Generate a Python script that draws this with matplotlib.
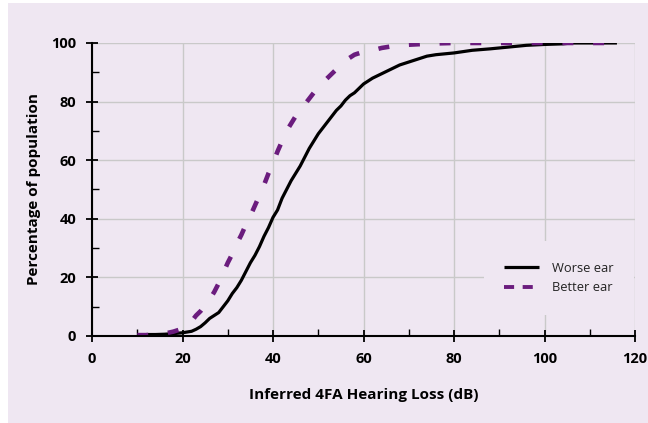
import matplotlib
matplotlib.use("Agg")
import matplotlib.pyplot as plt
from matplotlib.patches import Rectangle
from matplotlib.ticker import MultipleLocator

# cumulative hearing loss distributions
worse_x = [12, 14, 16, 18, 20, 22, 23, 24, 25, 26, 27, 28, 29, 30, 31, 32, 33, 34, 35,
           36, 37, 38, 39, 40, 41, 42, 43, 44, 45, 46, 47, 48, 49, 50, 51, 52, 53, 54,
           55, 56, 57, 58, 59, 60, 62, 64, 66, 68, 70, 72, 74, 76, 78, 80, 84, 88, 92,
           96, 100, 104, 106, 110, 116]
worse_y = [0.5, 0.5, 0.6, 0.8, 1.1, 1.6, 2.3, 3.2, 4.5, 6, 7, 8, 10, 12, 14.5, 16.5, 19,
           22, 25, 27.5, 30.5, 34, 37, 40.5, 43, 47, 50, 53, 55.5, 58, 61, 64, 66.5, 69,
           71, 73, 75, 77, 78.5, 80.5, 82, 83, 84.5, 86, 88, 89.5, 91, 92.5, 93.5, 94.5,
           95.5, 96, 96.3, 96.6, 97.5, 98, 98.6, 99.2, 99.5, 99.7, 100, 100, 100]

better_x = [10, 12, 14, 16, 18, 20, 22, 23, 24, 25, 26, 27, 28, 29, 30, 31, 32, 33, 34,
            35, 36, 37, 38, 39, 40, 41, 42, 43, 44, 45, 46, 47, 48, 49, 50, 51, 52, 53,
            54, 55, 56, 58, 60, 62, 64, 66, 68, 70, 75, 80, 90, 100, 110, 116]
better_y = [0.3, 0.3, 0.5, 0.8, 1.5, 2.5, 5, 7, 8.5, 10.5, 12.5, 15, 18, 21.5, 25, 28,
            31.5, 34.5, 38, 41, 44.5, 48, 51.5, 55.5, 59, 63, 66.5, 70, 72.5, 75, 77, 79,
            81, 83, 85, 86.5, 88, 89.5, 91, 92.5, 94, 96, 97, 97.5, 98.3, 98.8, 99.2,
            99.4, 99.8, 100, 100, 100, 100, 100]

bg = "#efe7f2"
purple = "#6b1c7e"

fig = plt.figure(figsize=(6.48, 4.23), dpi=100)
fig.patch.set_facecolor("white")
fig.patches.append(Rectangle((8 / 648, 0), 1, 1 - 3 / 423, transform=fig.transFigure,
                             facecolor=bg, edgecolor="none", zorder=-10))

ax = fig.add_axes([0.142, 0.2057, 0.838, 0.6927])
ax.set_zorder(2)
ax.set_facecolor(bg)

ax.plot(worse_x, worse_y, color="black", lw=2.3, label="Worse ear",
        solid_capstyle="butt", zorder=3)
ax.plot(better_x, better_y, color=purple, lw=3.3, ls=(0, (2.4, 4.3)), label="Better ear",
        dash_capstyle="butt", zorder=4)

ax.set_xlim(0, 120)
ax.set_ylim(0, 100)
ax.xaxis.set_major_locator(MultipleLocator(20))
ax.xaxis.set_minor_locator(MultipleLocator(10))
ax.yaxis.set_major_locator(MultipleLocator(20))
ax.yaxis.set_minor_locator(MultipleLocator(10))

ax.grid(True, which="major", color="#c9c9c9", lw=1.0, zorder=0)
ax.set_axisbelow(True)

for s in ["top", "right"]:
    ax.spines[s].set_visible(False)
for s in ["left", "bottom"]:
    ax.spines[s].set_linewidth(1.5)
    ax.spines[s].set_zorder(5)

ax.tick_params(which="major", direction="inout", length=9, width=1.3, pad=7, colors="black")
ax.tick_params(which="minor", direction="in", length=5, width=1.0)
for lab in ax.get_xticklabels() + ax.get_yticklabels():
    lab.set_fontfamily("Open Sans")
    lab.set_fontsize(10.5)
    lab.set_fontweight("bold")

ax.set_xlabel("Inferred 4FA Hearing Loss (dB)", fontfamily="Open Sans",
              fontweight="bold", fontsize=11, labelpad=16)
ax.set_ylabel("Percentage of population", fontfamily="Open Sans",
              fontweight="bold", fontsize=11, labelpad=7)

leg = ax.legend(loc="center", bbox_to_anchor=(0.86, 0.198), frameon=True,
                facecolor=bg, edgecolor="none", framealpha=1, handlelength=2.7,
                handletextpad=1.0, labelspacing=0.5, borderpad=1.6,
                prop=dict(family="Open Sans", size=9.3))
for t in leg.get_texts():
    t.set_color("#222222")
# legend sample uses a tighter dash than the curve
leg.get_lines()[1].set_linestyle((0, (2.6, 2.2)))
leg.get_lines()[1].set_linewidth(2.8)

fig.savefig("out.png", dpi=100, facecolor=fig.get_facecolor())
